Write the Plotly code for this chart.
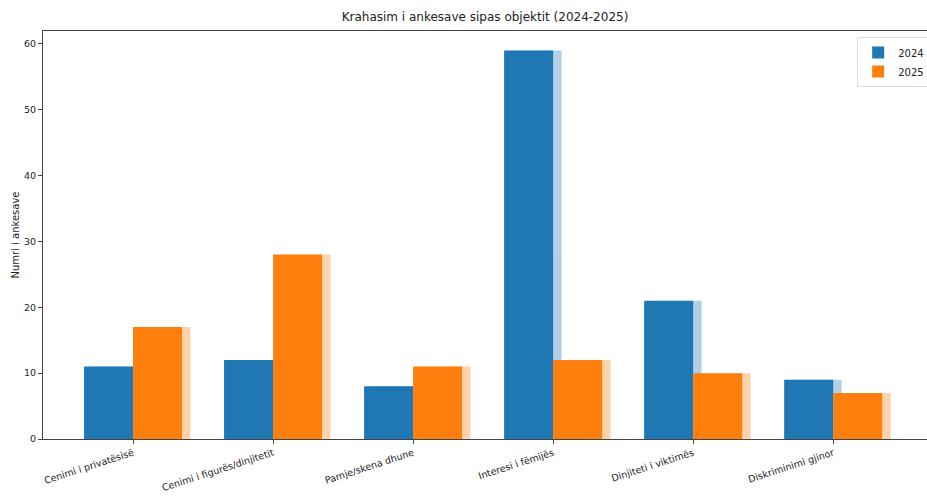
import plotly.graph_objects as go

categories = ["Cenimi i privatësisë", "Cenimi i figurës/dinjitetit", "Pamje/skena dhune",
              "Interesi i fëmijës", "Dinjiteti i viktimës", "Diskriminimi gjinor"]
values_2024 = [11, 12, 8, 59, 21, 9]
values_2025 = [17, 28, 11, 12, 10, 7]
series_names = ["2024", "2025"]

BLUE = "#1f77b4"
ORANGE = "#ff7f0e"
W = 0.35
GHOST = 0.06

x = list(range(len(categories)))

fig = go.Figure()
# faint ghost copies (soft shadow seen in the reference)
fig.add_trace(go.Bar(x=x, y=values_2024, width=W, offset=-W + GHOST, marker_color=BLUE,
                     marker_line_width=0, opacity=0.35, showlegend=False, hoverinfo="skip"))
fig.add_trace(go.Bar(x=x, y=values_2025, width=W, offset=GHOST, marker_color=ORANGE,
                     marker_line_width=0, opacity=0.35, showlegend=False, hoverinfo="skip"))
fig.add_trace(go.Bar(x=x, y=values_2024, width=W, offset=-W, marker_color=BLUE,
                     marker_line_width=0, name=series_names[0]))
fig.add_trace(go.Bar(x=x, y=values_2025, width=W, offset=0, marker_color=ORANGE,
                     marker_line_width=0, name=series_names[1]))

fig.update_layout(
    width=927, height=502,
    barmode="overlay",
    paper_bgcolor="white", plot_bgcolor="white",
    margin=dict(l=43, r=0, t=31, b=63, autoexpand=False),
    font=dict(family="DejaVu Sans", size=10, color="#222"),
    title=dict(text="Krahasim i ankesave sipas objektit (2024-2025)", x=0.5, xref="paper",
               y=0.966, yanchor="middle", font=dict(size=12, color="#222")),
    legend=dict(x=0.921, y=0.985, xanchor="left", yanchor="top", bgcolor="white",
                bordercolor="#ddd", borderwidth=1, font=dict(size=10), itemwidth=30,
                traceorder="normal", tracegroupgap=2),
    showlegend=True,
)
fig.update_xaxes(range=[-0.643, 5.67], tickmode="array", tickvals=x, ticktext=categories,
                 tickangle=-18, showline=True, linecolor="#444", linewidth=1, mirror=True,
                 ticks="outside", ticklen=4, tickcolor="#444", showgrid=False, zeroline=False,
                 tickfont=dict(size=9.5), automargin=False)
fig.update_yaxes(range=[0, 61.95], tickvals=[0, 10, 20, 30, 40, 50, 60],
                 showline=True, linecolor="#444", linewidth=1, ticks="outside", ticklen=4,
                 tickcolor="#444", showgrid=False, zeroline=False, automargin=False,
                 title=dict(text="Numri i ankesave", font=dict(size=10), standoff=2),
                 tickfont=dict(size=9.5))

fig.write_html("out.html", config={"displayModeBar": False},
               post_script="document.body.style.margin='0';document.body.style.overflow='hidden';")
